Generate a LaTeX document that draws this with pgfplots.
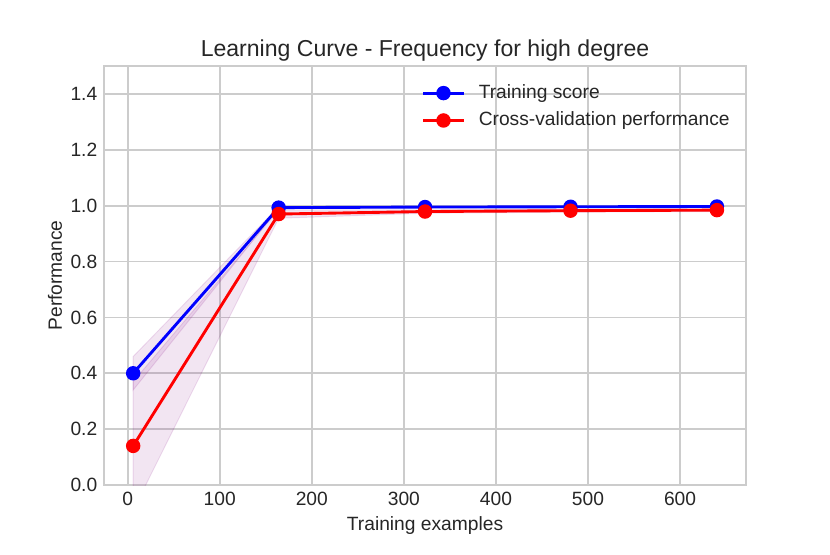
\documentclass[border=0pt]{standalone}
\usepackage{pgfplots}
\pgfplotsset{compat=1.18}
\usepackage{fontspec}
\setmainfont{Liberation Sans}
\definecolor{gridgray}{HTML}{CCCCCC}
\definecolor{txt}{HTML}{262626}
\definecolor{bandc}{HTML}{800080}
\begin{document}
\begin{tikzpicture}
\useasboundingbox (0,0) rectangle (432pt,288.36pt);
\begin{axis}[
  at={(54.13pt,35.91pt)}, anchor=south west,
  scale only axis, width=334.2pt, height=218.1pt,
  xmin=-25.7, xmax=671.7, ymin=0, ymax=1.5,
  xtick={0,100,200,300,400,500,600},
  ytick={0,0.2,0.4,0.6,0.8,1.0,1.2,1.4},
  /pgf/number format/assume math mode=true,
  yticklabel style={/pgf/number format/.cd, fixed, fixed zerofill, precision=1},
  xticklabel style={/pgf/number format/.cd, fixed, precision=0},
  tick label style={font=\fontsize{10}{12}\selectfont, text=txt},
  major tick length=0pt,
  grid=major,
  major grid style={gridgray, line width=0.9pt},
  axis line style={gridgray, line width=1pt},
  title={Learning Curve - Frequency for high degree},
  title style={at={(axis description cs:0.5,1.0238)}, anchor=base, yshift=-6pt, font=\fontsize{12}{14}\selectfont, text=txt},
  xlabel={Training examples},
  xlabel style={at={(axis description cs:0.5,-0.1096)}, anchor=base, font=\fontsize{10}{12}\selectfont, text=txt},
  ylabel={Performance},
  ylabel style={at={(axis description cs:-0.0763,0.5)}, anchor=center, font=\fontsize{10}{12}\selectfont, text=txt},
  legend style={at={(axis description cs:0.4855,0.9746)}, anchor=north west, draw=none, fill=none,
    font=\fontsize{10}{12}\selectfont, text=txt, row sep=1.5pt, column sep=5.1pt},
  legend cell align=left,
  legend image code/.code={\draw[mark repeat=2,mark phase=2] plot coordinates {(0pt,0pt)(10.5pt,0pt)(21pt,0pt)};},
]
\addplot[forget plot, draw=bandc, draw opacity=0.12, fill=bandc, fill opacity=0.1, line width=0.5pt]
  coordinates {(6,0.46)(164,0.996)(323,0.997)(481,0.998)(640,0.999)(640,0.995)(481,0.994)(323,0.993)(164,0.990)(6,0.34)} -- cycle;
\addplot[forget plot, draw=bandc, draw opacity=0.12, fill=bandc, fill opacity=0.1, line width=0.5pt]
  coordinates {(6,0.37)(164,0.985)(323,0.985)(481,0.987)(640,0.989)(640,0.979)(481,0.977)(323,0.973)(164,0.955)(6,-0.09)} -- cycle;
\addplot[blue, line width=1.5pt, mark=*, mark size=3pt, mark options={solid, fill=blue, draw=blue}]
  coordinates {(6,0.400)(164,0.993)(323,0.995)(481,0.996)(640,0.997)};
\addlegendentry{Training score}
\addplot[red, line width=1.5pt, mark=*, mark size=3pt, mark options={solid, fill=red, draw=red}]
  coordinates {(6,0.140)(164,0.970)(323,0.979)(481,0.982)(640,0.984)};
\addlegendentry{Cross-validation performance}
\end{axis}
\end{tikzpicture}
\end{document}
